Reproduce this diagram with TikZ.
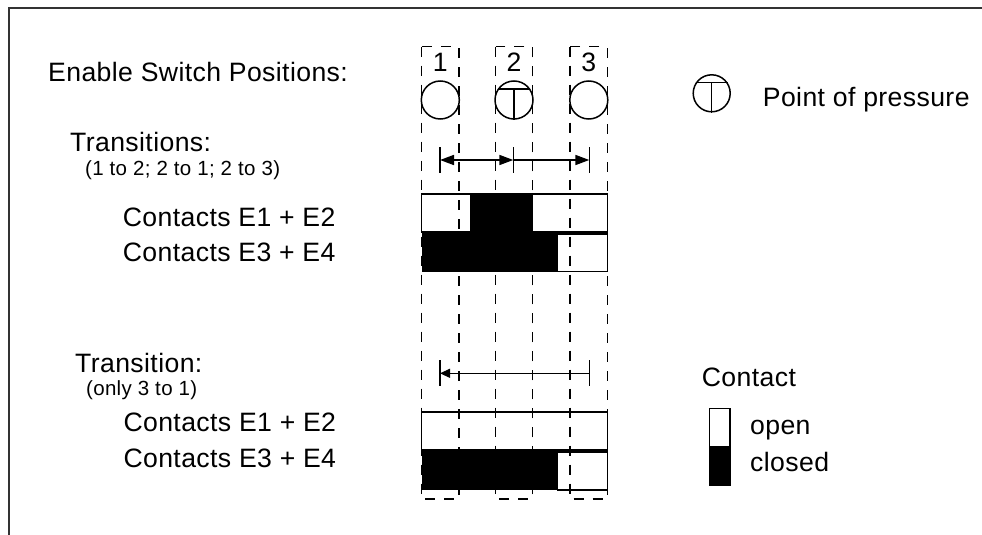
\documentclass[tikz,border=0pt]{standalone}
\usepackage{fontspec}
\setmainfont{Liberation Sans}
\newfontfamily\mainls[LetterSpace=1.5]{Liberation Sans}
\usetikzlibrary{arrows.meta,calc}
\begin{document}
\begin{tikzpicture}[x=1pt,y=-1pt,
  lbl/.style={anchor=base west,inner sep=0pt,font=\mainls\fontsize{26.6}{30}\selectfont},
  sml/.style={anchor=base west,inner sep=0pt,font=\mainls\fontsize{20.5}{24}\selectfont},
  num/.style={anchor=base,inner sep=0pt,font=\fontsize{26.6}{30}\selectfont},
  poscirc/.style={circle,draw,line width=1.5pt,minimum size=38pt,inner sep=0pt},
  colbox/.style={draw,line width=1.5pt,dash pattern=on 10pt off 9pt},
  bar/.style={draw,line width=1.5pt},
  tickline/.style={line width=1.5pt},
  arr/.style={line width=1.7pt,-{Triangle[length=14pt,width=10pt]}},
  darr/.style={line width=1.7pt,{Triangle[length=14pt,width=10pt]}-{Triangle[length=14pt,width=10pt]}},
  thinarr/.style={line width=1.2pt,-{Triangle[length=10pt,width=9pt]}},
]
\useasboundingbox (0,0) rectangle (982,535);
% frame
\draw[line width=2pt,black!80] (982,8) -- (9,8) -- (9,535);

% dashed columns
\draw[colbox] (421.7,46.7) rectangle (459,499);
\draw[colbox] (495.7,46.7) rectangle (532.7,499);
\draw[colbox] (570,46.7) rectangle (607.3,499);

% position numbers and circles
\node[num] (n1) at (440.3,71.7) {1};
\node[num] (n2) at (514,71.7) {2};
\node[num] (n3) at (588.8,71.7) {3};
\node[poscirc] (c1) at (440.3,100) {};
\node[poscirc] (c2) at (514,100) {};
\node[poscirc] (c3) at (588.8,100) {};
\draw[line width=1.5pt] (c2.146) -- (c2.34);
\draw[line width=1.5pt] (c2.south |- c2.34) -- (c2.south);

% top transitions arrows
\coordinate (p1) at (440,160);
\coordinate (p2) at (513.3,160);
\coordinate (p3) at (589.3,160);
\foreach \p in {p1,p2,p3}{\draw[tickline] ($(\p)+(0,-13)$) -- ($(\p)+(0,13)$);}
\draw[darr] (p1) -- (p2);
\draw[arr] (p2) -- (p3);

% top bars
\fill (470,194) rectangle (532.7,233);
\fill (421.7,233) rectangle (557.7,271.7);
\draw[bar] (421.7,194) rectangle (607.7,232);
\draw[bar] (557.7,234) rectangle (607.7,271.7);

% bottom transition arrow
\coordinate (q1) at (440,373.3);
\coordinate (q3) at (589.3,373.3);
\foreach \p in {q1,q3}{\draw[line width=1.3pt] ($(\p)+(0,-13)$) -- ($(\p)+(0,13)$);}
\draw[thinarr] (q3) -- (q1);

% bottom bars
\draw[bar] (421.7,412) rectangle (607.7,450);
\fill (421.7,450) rectangle (557.7,490);
\draw[bar] (557.7,452) rectangle (607.7,490);

% labels
\node[lbl] (enable) at (48,81.7) {Enable Switch Positions:};
\node[lbl] (trans) at (70,151) {Transitions:};
\node[sml] (transsub) at (85,175.5) {(1 to 2; 2 to 1; 2 to 3)};
\node[lbl] (e12a) at (122.7,226.7) {Contacts E1 + E2};
\node[lbl] (e34a) at (122.7,261) {Contacts E3 + E4};
\node[lbl] (trans2) at (75,372.7) {Transition:};
\node[sml] (trans2sub) at (86,395) {(only 3 to 1)};
\node[lbl] (e12b) at (123.3,431.7) {Contacts E1 + E2};
\node[lbl] (e34b) at (123.3,467.3) {Contacts E3 + E4};

% point of pressure legend
\node[poscirc,minimum size=37pt] (pp) at (711.7,93.3) {};
\draw[line width=1.5pt] (pp.146) -- (pp.34);
\draw[line width=1.5pt] (pp.south |- pp.34) -- (pp.south);
\node[lbl] (pptext) at (762.7,106.7) {Point of pressure};

% contact legend
\node[lbl] (contact) at (701.7,386.7) {Contact};
\fill (709.3,446) rectangle (730,485);
\draw[bar] (709.3,408.3) rectangle (730,485);
\node[lbl] (open) at (750,434) {open};
\node[lbl] (closed) at (750,471.7) {closed};
\end{tikzpicture}
\end{document}
